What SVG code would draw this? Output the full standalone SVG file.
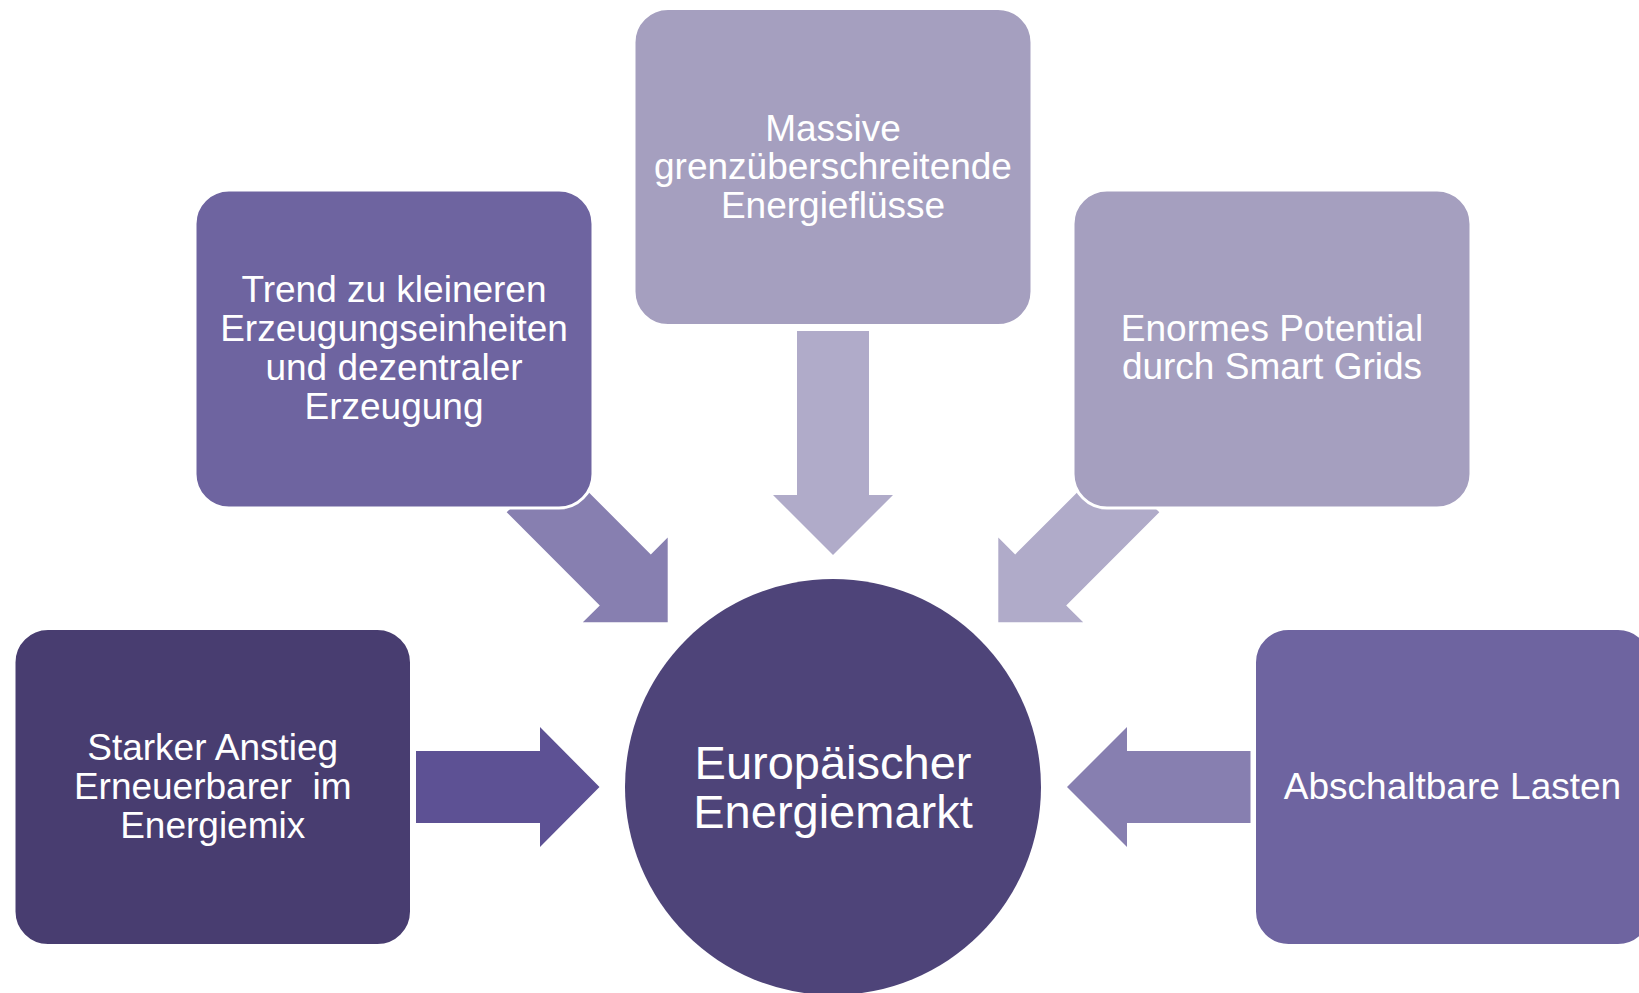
<svg xmlns="http://www.w3.org/2000/svg" width="1639" height="993" viewBox="0 0 1639 993">
  <style>
    .box { stroke: #ffffff; stroke-width: 3; }
    .t { font-family: "Liberation Sans", Arial, sans-serif; fill: #ffffff; text-anchor: middle; white-space: pre; }
    .s37 { font-size: 37px; }
    .s47 { font-size: 47px; }
    .dark { fill: #483D70; }
    .mid { fill: #6E64A0; }
    .light { fill: #A59FBF; }
    .core { fill: #4E4479; }
    .a1 { fill: #5D5194; }
    .a2 { fill: #877FB0; }
    .a3 { fill: #B0ABC9; }
  </style>
  <rect width="1639" height="993" fill="#ffffff"/>
  <g id="connectors">
    <polygon class="a1" points="416,751 540,751 540,727 599.5,787 540,847 540,823 416,823"/>
    <polygon class="a2" points="1250.5,751 1127,751 1127,727 1067,787 1127,847 1127,823 1250.5,823"/>
    <polygon class="a3" points="797,331 869,331 869,495 893,495 833,555 773,495 797,495"/>
    <polygon class="a2" points="557.7,461.3 650.8,554.4 667.7,537.4 667.7,622.3 582.8,622.3 599.8,605.4 506.7,512.3"/>
    <polygon class="a3" points="1108.3,461.3 1015.2,554.4 998.3,537.4 998.3,622.3 1083.2,622.3 1066.2,605.4 1159.3,512.3"/>
  </g>
  <g id="node-center">
    <circle class="core" cx="833" cy="787" r="208"/>
    <text class="t s47" x="833" y="779">Europäischer</text>
    <text class="t s47" x="833" y="828">Energiemarkt</text>
  </g>
  <g id="node-massive">
    <rect class="box light" x="634" y="8.5" width="398" height="317" rx="34" ry="34"/>
    <text class="t s37" x="833" y="140.5">Massive</text>
    <text class="t s37" x="833" y="179.2">grenzüberschreitende</text>
    <text class="t s37" x="833" y="218">Energieflüsse</text>
  </g>
  <g id="node-trend">
    <rect class="box mid" x="195" y="190" width="398" height="318" rx="34" ry="34"/>
    <text class="t s37" x="394" y="301.5">Trend zu kleineren</text>
    <text class="t s37" x="394" y="340.5">Erzeugungseinheiten</text>
    <text class="t s37" x="394" y="379.5">und dezentraler</text>
    <text class="t s37" x="394" y="418.5">Erzeugung</text>
  </g>
  <g id="node-smartgrids">
    <rect class="box light" x="1073" y="190" width="398" height="318" rx="34" ry="34"/>
    <text class="t s37" x="1272" y="340.5">Enormes Potential</text>
    <text class="t s37" x="1272" y="379.3">durch Smart Grids</text>
  </g>
  <g id="node-erneuerbare">
    <rect class="box dark" x="14" y="628.5" width="397.5" height="317" rx="34" ry="34"/>
    <text class="t s37" x="212.7" y="759.5">Starker Anstieg</text>
    <text class="t s37" x="212.7" y="798.5">Erneuerbarer  im</text>
    <text class="t s37" x="212.7" y="837.5">Energiemix</text>
  </g>
  <g id="node-lasten">
    <rect class="box mid" x="1254.5" y="628.5" width="397.5" height="317" rx="34" ry="34"/>
    <text class="t s37" x="1452.5" y="799">Abschaltbare Lasten</text>
  </g>
</svg>
